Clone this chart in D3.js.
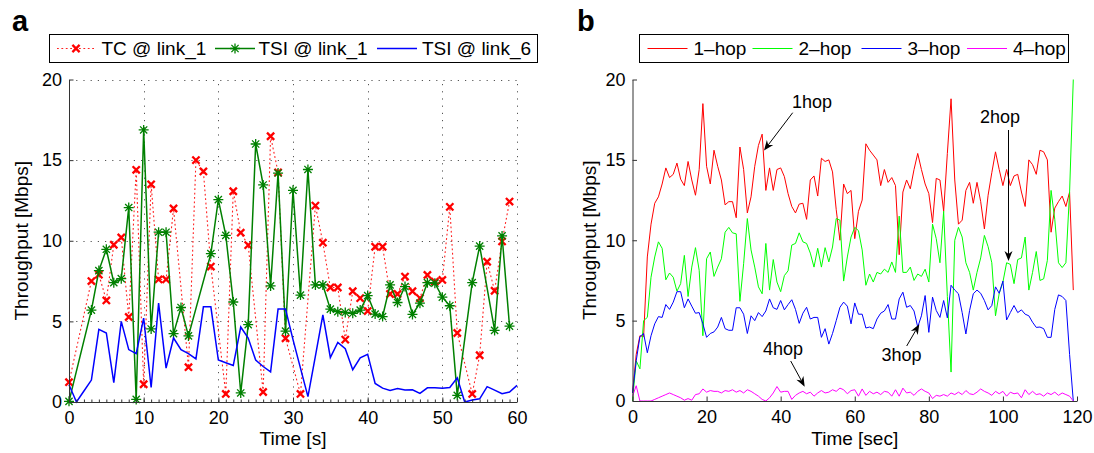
<!DOCTYPE html>
<html>
<head>
<meta charset="utf-8">
<script src="https://cdn.jsdelivr.net/npm/d3@7"></script>
<style>
    body { margin: 0; background: #fff; }
    svg { display: block; font-family: "Liberation Sans", Arial, Helvetica, sans-serif; }
</style>
</head>
<body>
<script>
'use strict';

// panel a: TC on link_1 (only the seconds that have a sample)
const tcTime = [0, 3, 4, 5, 6, 7, 8, 9, 10, 11, 12, 13, 14, 16, 17, 18, 19, 21, 22, 23, 24, 26, 27, 28, 29, 31,
    33, 34, 35, 36, 37, 38, 39, 40, 41, 42, 43, 44, 45, 46, 47, 48, 49, 50, 51, 52, 54, 55, 56, 57, 58, 59];
const tcRate = [1.23, 7.5, 7.9, 6.3, 9.75, 10.2, 5.27, 14.4, 1.1, 13.5, 7.6, 7.6, 12.0, 2.16, 15.0, 14.3, 8.4, 0.5, 13.07, 10.5, 9.73, 0.62, 16.48, 14.24, 3.95, 0.5,
    12.18, 9.88, 7.1, 7.1, 3.87, 6.87, 6.44, 5.64, 9.63, 9.63, 6.7, 6.7, 7.78, 6.87, 6.44, 7.88, 7.47, 7.57, 12.1, 4.28, 0.5, 2.9, 8.7, 6.9, 9.96, 12.43];

// panel a: TSI on link_1
const tsi1Time = [0, 3, 4, 5, 6, 7, 8, 9, 10, 11, 12, 13, 14, 15, 16, 19, 20, 21, 22, 23, 24, 25, 26, 27, 28, 29, 30, 31, 32, 33, 34,
    35, 36, 37, 38, 39, 40, 41, 42, 43, 44, 45, 46, 47, 48, 49, 50, 51, 52, 54, 55, 57, 58, 59];
const tsi1Rate = [0.04, 5.7, 8.15, 9.47, 7.4, 7.65, 12.06, 0.16, 16.87, 4.53, 10.53, 10.53, 4.24, 5.86, 4.1, 9.2, 12.55, 10.33, 6.2, 0.56, 4.8, 16.0, 13.46, 7.2, 14.2, 4.4, 13.13, 6.63, 14.42, 7.26, 7.26,
    5.76, 5.6, 5.55, 5.5, 5.7, 6.6, 5.45, 5.3, 7.26, 6.17, 7.16, 5.43, 6.13, 7.4, 7.37, 6.5, 5.97, 0.41, 7.4, 9.67, 4.44, 10.3, 4.7];

// panel a: TSI on link_6, one sample per second from 0 to 60 s
const tsi6Rate = [1.07, 0, 0.68, 1.36, 4.5, 4.28, 1.2, 5.0, 3.25, 3.0,
    5.2, 0.9, 6.13, 2.1, 3.97, 3.25, 3.0, 2.67, 5.9, 5.9,
    2.6, 2.43, 2.26, 4.65, 3.97, 2.6, 2.2, 1.87, 5.76, 5.76,
    3.87, 2.1, 0.33, 2.84, 5.41, 2.76, 3.7, 3.3, 2.0, 2.74,
    2.96, 1.15, 0.86, 0.72, 0.84, 0.74, 0.76, 0.53, 0.88, 0.88,
    0.86, 0.9, 1.5, 0, 0.12, 0.2, 0.95, 0.74, 0.51, 0.62, 1.03];

// panel b: throughput per hop count, one sample per second from 0 to 119 s
const hop1Rate = [0.5, 2.9, 4.06, 4.0, 8.96, 11.0, 12.3, 12.7, 13.5, 14.5,
    13.9, 14.1, 14.8, 13.8, 13.4, 14.9, 13.75, 12.8, 14.4, 18.5,
    14.6, 13.5, 15.6, 14.6, 13.75, 12.2, 12.4, 12.4, 11.4, 15.8,
    14.4, 11.7, 12.7, 14.6, 15.9, 16.6, 13.1, 14.5, 13.1, 14.4,
    14.5, 13.96, 12.9, 12.1, 11.7, 12.25, 12.3, 11.3, 13.75, 14.0,
    12.75, 15.1, 14.9, 15.0, 14.25, 11.9, 10.0, 13.5, 12.9, 13.1,
    10.1, 11.8, 12.5, 16.0, 15.6, 15.3, 15.0, 13.4, 14.4, 13.6,
    13.9, 13.4, 9.1, 13.0, 13.75, 13.2, 14.4, 15.4, 14.4, 13.5,
    12.9, 11.1, 13.85, 13.75, 11.8, 15.4, 18.8, 13.75, 11.0, 11.25,
    13.1, 13.6, 12.3, 13.6, 12.4, 10.7, 12.8, 14.2, 15.5, 14.4,
    13.4, 14.4, 13.4, 14.0, 14.1, 13.0, 12.1, 15.0, 14.7, 14.1,
    15.6, 15.5, 15.0, 10.5, 12.0, 12.4, 12.75, 12.1, 13.0, 6.9];
const hop2Rate = [0, 2.5, 2.0, 5.0, 5.2, 7.7, 8.96, 9.9, 9.5, 7.54,
    7.96, 7.7, 6.83, 7.3, 9.06, 6.5, 8.33, 9.54, 8.13, 4.06,
    8.85, 9.27, 7.75, 8.33, 8.85, 10.5, 10.8, 10.46, 10.4, 6.2,
    8.54, 11.35, 9.4, 8.33, 7.1, 6.67, 9.8, 6.9, 8.8, 7.4,
    6.8, 7.8, 8.1, 9.7, 9.8, 10.46, 9.9, 9.8, 9.2, 8.33,
    9.5, 8.33, 9.54, 8.65, 9.58, 11.35, 11.25, 7.46, 8.96, 10.2,
    10.8, 10.6, 9.4, 7.2, 7.9, 7.4, 8.0, 7.9, 8.2, 8.0,
    8.65, 8.0, 11.5, 8.0, 8.0, 8.33, 7.5, 7.9, 7.75, 8.2,
    7.4, 11.0, 10.1, 8.6, 11.8, 6.5, 1.8, 10.0, 10.8, 10.2,
    8.6, 8.0, 6.9, 8.0, 8.9, 10.3, 9.6, 8.6, 5.3, 6.7,
    7.4, 8.6, 8.5, 7.3, 8.8, 8.9, 10.2, 6.9, 8.0, 9.3,
    7.5, 7.6, 8.75, 13.1, 11.3, 8.6, 8.3, 8.6, 13.0, 20];
const hop3Rate = [0.5, 2.5, 4.0, 4.2, 3.0, 4.06, 4.8, 5.25, 5.2, 6.0,
    5.7, 6.15, 6.8, 6.8, 5.8, 6.35, 5.9, 5.46, 5.5, 4.8,
    3.96, 4.2, 4.3, 4.6, 5.2, 4.5, 4.4, 4.4, 5.8, 5.8,
    5.4, 4.2, 5.3, 5.0, 5.5, 5.25, 5.6, 6.35, 5.8, 5.7,
    6.25, 5.67, 6.0, 6.3, 5.7, 4.83, 5.46, 5.83, 5.1, 5.2,
    5.2, 3.96, 4.5, 3.54, 4.2, 5.0, 5.83, 6.15, 5.9, 4.8,
    6.1, 5.4, 5.4, 4.54, 4.6, 4.5, 5.1, 5.46, 5.6, 6.0,
    5.1, 5.1, 6.35, 6.77, 5.83, 5.94, 5.6, 4.6, 5.3, 6.56,
    4.27, 6.46, 5.63, 5.2, 6.25, 5.17, 7.2, 6.9, 6.67, 5.5,
    4.17, 5.63, 6.67, 6.9, 6.7, 6.25, 5.67, 5.94, 7.1, 6.7,
    7.46, 5.04, 5.5, 5.94, 5.5, 5.67, 5.4, 5.3, 4.9, 4.58,
    4.6, 4.5, 3.96, 3.96, 5.7, 6.6, 6.5, 6.25, 2.9, 0];
const hop4Rate = [0.3, 0.95, 0, 0, 0, 0, 0.1, 0.2, 0.3, 0.4,
    0.5, 0.4, 0.3, 0.2, 0.05, 0.15, 0.05, 0.4, 0.45, 0.75,
    0.55, 0.65, 0.6, 0.6, 0.5, 0.65, 0.6, 0.7, 0.55, 0.65,
    0.5, 0.7, 0.6, 0.45, 0.3, 0.1, 0.0, 0.2, 0.5, 0.9,
    0.55, 0.6, 0.6, 0.1, 0.35, 0.5, 0.6, 0.45, 0.55, 0.3,
    0.5, 0.65, 0.5, 0.55, 0.7, 0.6, 0.8, 0.7, 0.45, 0.65,
    0.7, 0.3, 0.75, 0.35, 0.6, 0.45, 0.55, 0.4, 0.6, 0.55,
    0.3, 0.7, 0.3, 0.8, 0.5, 0.55, 0.35, 0.6, 0.75, 0.6,
    0.5, 0.15, 0.35, 0.3, 0.4, 0.3, 0.5, 0.4, 0.55, 0.4,
    0.65, 0.45, 0.4, 0.55, 0.75, 0.6, 0.5, 0.35, 0.6, 0.45,
    0.6, 0.3, 0.55, 0.45, 0.5, 0.2, 0.7, 0.4, 0.6, 0.4,
    0.45, 0.3, 0.5, 0.4, 0.55, 0.35, 0.5, 0.4, 0.3, 0];

// ticks and names
const aTicksX = [0, 10, 20, 30, 40, 50, 60];
const bTicksX = [0, 20, 40, 60, 80, 100, 120];
const yTicks = [0, 5, 10, 15, 20];
const aNames = ['TC @ link_1', 'TSI @ link_1', 'TSI @ link_6'];
const bNames = ['1\u2013hop', '2\u2013hop', '3\u2013hop', '4\u2013hop'];
const hopColors = ['#ff0000', '#00ff00', '#0000ff', '#ff00ff'];

(function () {

    const svg = d3.select('body')
        .append('svg')
        .attr('width', 1094)
        .attr('height', 453);

    svg.append('rect')
        .attr('width', 1094)
        .attr('height', 453)
        .attr('fill', '#fff');

    // scales for both panels
    const ax = d3.scaleLinear().domain([0, 60]).range([69, 517]);
    const ay = d3.scaleLinear().domain([0, 20]).range([402, 79.5]);
    const bx = d3.scaleLinear().domain([0, 120]).range([632.5, 1077]);
    const by = d3.scaleLinear().domain([0, 20]).range([401, 79.5]);

    // ---- panel a ----
    drawGrid(ax, ay);
    plotPanelA(ax, ay);
    drawAxes(ax, ay, aTicksX, true);
    makeLabels(ax, ay, 'Time [s]', 22);
    makeLegendA();

    // ---- panel b ----
    plotPanelB(bx, by);
    drawAxes(bx, by, bTicksX, false);
    makeLabels(bx, by, 'Time [sec]', 590);
    makeLegendB();
    makeArrows();

    // panel letters
    svg.append('text').attr('x', 12).attr('y', 31)
        .style('font-size', '29px').style('font-weight', 'bold').text('a');
    svg.append('text').attr('x', 577).attr('y', 31)
        .style('font-size', '29px').style('font-weight', 'bold').text('b');

    // dotted grid of panel a
    function drawGrid(x, y) {
        const g = svg.append('g')
            .attr('stroke', '#555')
            .attr('stroke-width', 1)
            .attr('stroke-dasharray', '1.2,6');
        g.selectAll('.vgrid')
            .data(aTicksX.slice(1))
            .enter()
            .append('line')
            .attr('x1', d => Math.round(x(d)) + 0.5)
            .attr('x2', d => Math.round(x(d)) + 0.5)
            .attr('y1', y(0))
            .attr('y2', y(20));
        g.selectAll('.hgrid')
            .data(yTicks.slice(1))
            .enter()
            .append('line')
            .attr('x1', x(0))
            .attr('x2', x(60))
            .attr('y1', d => Math.round(y(d)) + 0.5)
            .attr('y2', d => Math.round(y(d)) + 0.5);
    }

    // draw bottom and left axes with inward ticks
    function drawAxes(x, y, xTicks, minor) {
        const xAxis = d3.axisBottom(x)
            .tickValues(xTicks)
            .tickSizeInner(-4.5)
            .tickSizeOuter(0)
            .tickPadding(9);
        const gx = svg.append('g')
            .attr('transform', 'translate(0,' + y(0) + ')')
            .call(xAxis);

        const yAxis = d3.axisLeft(y)
            .tickValues(yTicks)
            .tickSizeInner(-4.5)
            .tickSizeOuter(0)
            .tickPadding(7);
        const gy = svg.append('g')
            .attr('transform', 'translate(' + x.range()[0] + ',0)')
            .call(yAxis);

        [gx, gy].forEach(g => {
            g.attr('font-family', null).attr('font-size', null);
            g.selectAll('text').style('font-size', '18px').attr('fill', '#000');
            g.selectAll('line').attr('stroke', '#333');
            g.select('.domain').attr('stroke', '#333');
        });

        if (minor) {
            // small ticks every second on the time axis
            const mAxis = d3.axisBottom(x)
                .tickValues(d3.range(x.domain()[0], x.domain()[1] + 1, 1))
                .tickSizeInner(-2.5)
                .tickSizeOuter(0)
                .tickFormat('');
            const gm = svg.append('g')
                .attr('transform', 'translate(0,' + y(0) + ')')
                .call(mAxis);
            gm.select('.domain').remove();
            gm.selectAll('line').attr('stroke', '#333');
        }
    }

    // axis titles
    function makeLabels(x, y, xTitle, yTitleX) {
        const r = x.range();
        svg.append('text')
            .attr('x', (r[0] + r[1]) / 2)
            .attr('y', 445)
            .attr('text-anchor', 'middle')
            .style('font-size', '19px')
            .text(xTitle);
        svg.append('text')
            .attr('transform', 'translate(' + (yTitleX + 6) + ',' + y(10) + ')rotate(-90)')
            .attr('text-anchor', 'middle')
            .style('font-size', '19px')
            .text('Throughput [Mbps]');
    }

    function xMark(s) {
        return 'M' + (-s) + ',' + (-s) + 'L' + s + ',' + s + 'M' + (-s) + ',' + s + 'L' + s + ',' + (-s);
    }

    function starMark(s) {
        const d = s * 0.72;
        return 'M' + (-s) + ',0L' + s + ',0M0,' + (-s) + 'L0,' + s +
            'M' + (-d) + ',' + (-d) + 'L' + d + ',' + d + 'M' + (-d) + ',' + d + 'L' + d + ',' + (-d);
    }

    // plot the three link series
    function plotPanelA(x, y) {
        const tc = tcTime.map((t, i) => ({ t: t, v: tcRate[i] }));
        const tsi1 = tsi1Time.map((t, i) => ({ t: t, v: tsi1Rate[i] }));
        const tsi6 = tsi6Rate.map((v, i) => ({ t: i, v: v }));

        const line = d3.line().x(d => x(d.t)).y(d => y(d.v));

        svg.append('path')
            .attr('d', line(tc))
            .attr('fill', 'none')
            .attr('stroke', '#ff2020')
            .attr('stroke-width', 1.1)
            .attr('stroke-dasharray', '1.8,2.6');

        svg.selectAll('.tcMark')
            .data(tc)
            .enter()
            .append('path')
            .attr('transform', d => 'translate(' + x(d.t) + ',' + y(d.v) + ')')
            .attr('d', xMark(3.6))
            .attr('stroke', '#ff0000')
            .attr('stroke-width', 2.3)
            .attr('fill', 'none');

        svg.append('path')
            .attr('d', line(tsi1))
            .attr('fill', 'none')
            .attr('stroke', '#008000')
            .attr('stroke-width', 1.5);

        svg.selectAll('.tsiMark')
            .data(tsi1)
            .enter()
            .append('path')
            .attr('transform', d => 'translate(' + x(d.t) + ',' + y(d.v) + ')')
            .attr('d', starMark(5))
            .attr('stroke', '#008000')
            .attr('stroke-width', 1.3)
            .attr('fill', 'none');

        svg.append('path')
            .attr('d', line(tsi6))
            .attr('fill', 'none')
            .attr('stroke', '#0000ff')
            .attr('stroke-width', 1.5);
    }

    // plot the four hop series
    function plotPanelB(x, y) {
        const line = d3.line().x((d, i) => x(i)).y(d => y(d));
        [hop1Rate, hop2Rate, hop3Rate, hop4Rate].forEach((rates, k) => {
            svg.append('path')
                .attr('d', line(rates))
                .attr('fill', 'none')
                .attr('stroke', hopColors[k])
                .attr('stroke-width', 1);
        });
    }

    function legendBox(x0, x1) {
        svg.append('rect')
            .attr('x', x0 + 0.5)
            .attr('y', 34.5)
            .attr('width', x1 - x0)
            .attr('height', 28)
            .attr('fill', '#fff')
            .attr('stroke', '#000')
            .attr('stroke-width', 1);
    }

    function legendText(x, label) {
        svg.append('text')
            .attr('x', x)
            .attr('y', 55)
            .style('font-size', '19px')
            .text(label);
    }

    function makeLegendA() {
        const cy = 48.5;
        legendBox(49, 537);

        svg.append('line')
            .attr('x1', 57).attr('x2', 95).attr('y1', cy).attr('y2', cy)
            .attr('stroke', '#ff2020').attr('stroke-width', 1.1)
            .attr('stroke-dasharray', '1.8,2.6');
        svg.append('path')
            .attr('transform', 'translate(76,' + cy + ')')
            .attr('d', xMark(3.6))
            .attr('stroke', '#ff0000').attr('stroke-width', 2.3);
        legendText(101.5, aNames[0]);

        svg.append('line')
            .attr('x1', 215).attr('x2', 255).attr('y1', cy).attr('y2', cy)
            .attr('stroke', '#008000').attr('stroke-width', 1.5);
        svg.append('path')
            .attr('transform', 'translate(235,' + cy + ')')
            .attr('d', starMark(5))
            .attr('stroke', '#008000').attr('stroke-width', 1.3);
        legendText(258.5, aNames[1]);

        svg.append('line')
            .attr('x1', 377).attr('x2', 417).attr('y1', cy).attr('y2', cy)
            .attr('stroke', '#0000ff').attr('stroke-width', 1.5);
        legendText(422, aNames[2]);
    }

    function makeLegendB() {
        const cy = 48.5;
        const starts = [647.5, 752.5, 861.5, 967];
        legendBox(639, 1068);
        bNames.forEach((name, k) => {
            svg.append('line')
                .attr('x1', starts[k]).attr('x2', starts[k] + 40)
                .attr('y1', cy).attr('y2', cy)
                .attr('stroke', hopColors[k]).attr('stroke-width', 1);
            legendText(starts[k] + 46, name);
        });
    }

    // text arrows pointing at the hop curves
    function makeArrows() {
        const notes = [
            { label: '1hop', tx: 792, ty: 108, x1: 792.7, y1: 112.7, x2: 764, y2: 150.5 },
            { label: '2hop', tx: 980, ty: 123, x1: 1008.5, y1: 130, x2: 1008.5, y2: 261 },
            { label: '3hop', tx: 881.5, ty: 361, x1: 906.7, y1: 346, x2: 919.3, y2: 324.3 },
            { label: '4hop', tx: 763, ty: 355, x1: 790.7, y1: 361, x2: 804.7, y2: 386.7 }
        ];
        notes.forEach(n => {
            svg.append('text')
                .attr('x', n.tx)
                .attr('y', n.ty)
                .style('font-size', '18px')
                .text(n.label);

            const dx = n.x2 - n.x1;
            const dy = n.y2 - n.y1;
            const len = Math.sqrt(dx * dx + dy * dy);
            const ux = dx / len, uy = dy / len;
            const nx = -uy, ny = ux;
            const L = 10, W = 4, notch = 7;
            const bx0 = n.x2 - L * ux, by0 = n.y2 - L * uy;
            const mx = n.x2 - notch * ux, my = n.y2 - notch * uy;

            svg.append('line')
                .attr('x1', n.x1).attr('y1', n.y1)
                .attr('x2', mx).attr('y2', my)
                .attr('stroke', '#000').attr('stroke-width', 1);
            svg.append('path')
                .attr('d', 'M' + n.x2 + ',' + n.y2 +
                    'L' + (bx0 + W * nx) + ',' + (by0 + W * ny) +
                    'L' + mx + ',' + my +
                    'L' + (bx0 - W * nx) + ',' + (by0 - W * ny) + 'Z')
                .attr('fill', '#000');
        });
    }

})();
</script>
</body>
</html>
